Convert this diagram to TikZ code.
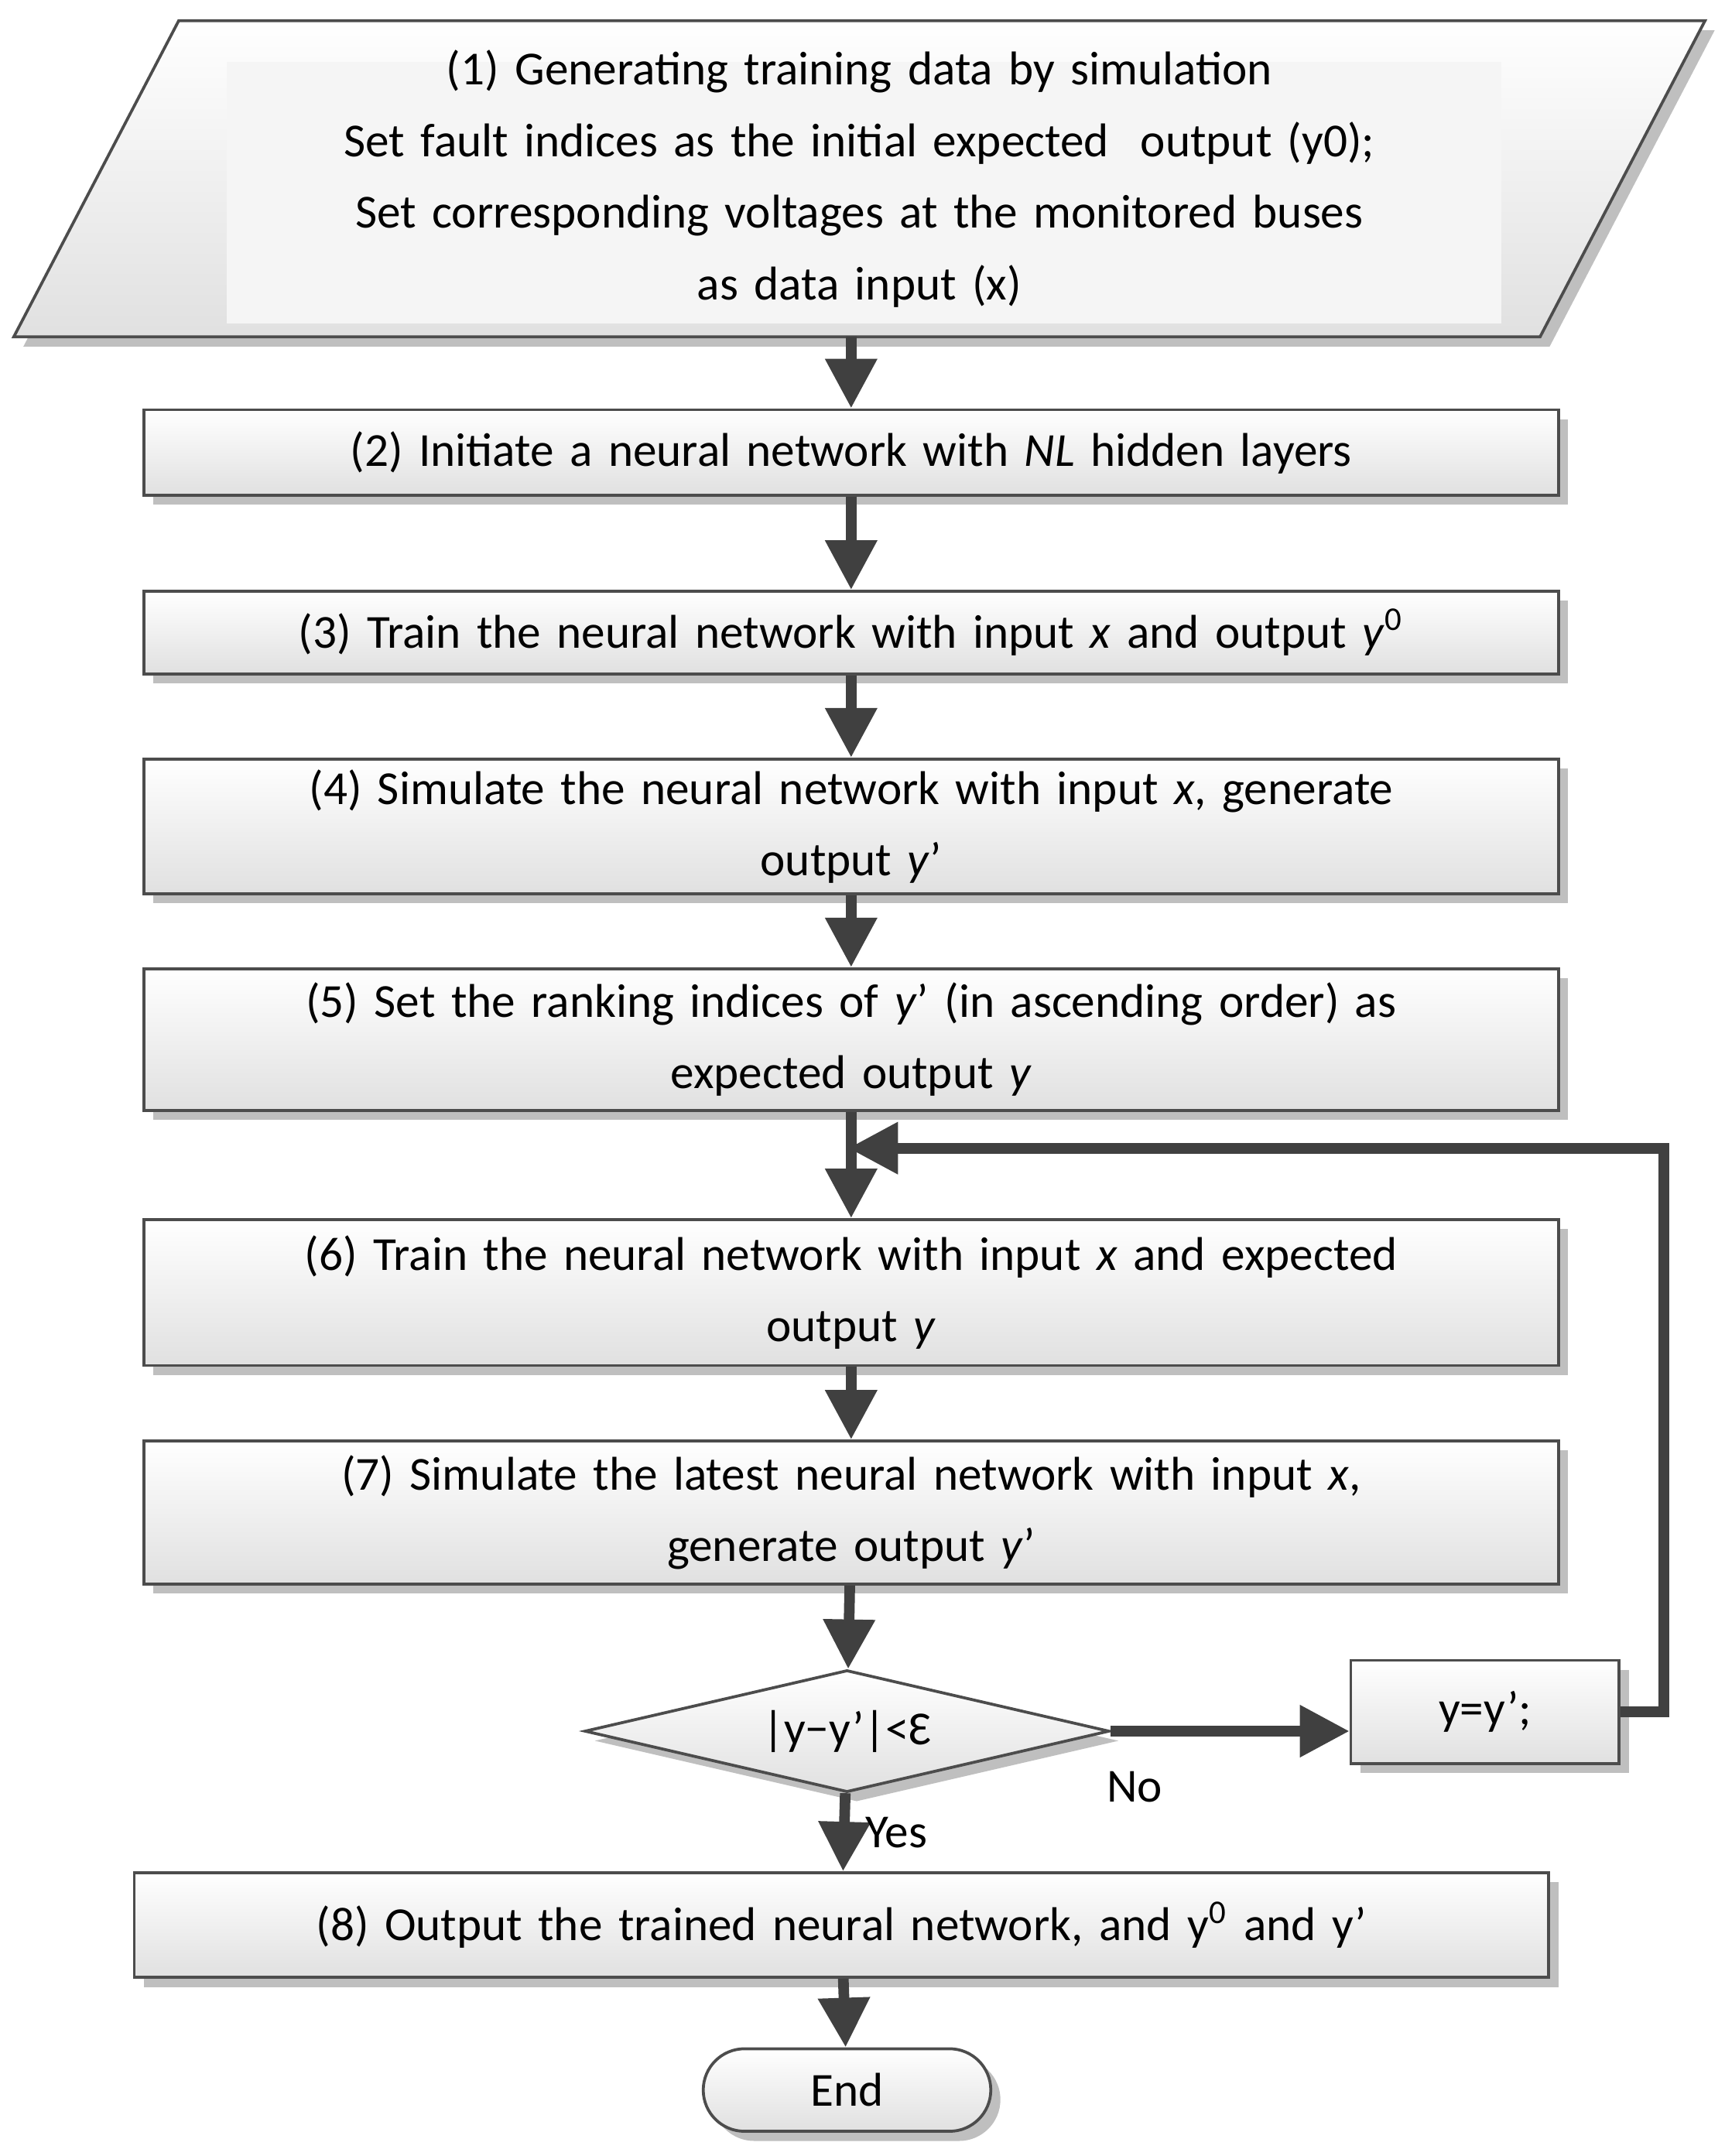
\documentclass[tikz,border=0pt]{standalone}
\usepackage{fontspec}
\setmainfont{Carlito}
\usetikzlibrary{shapes.geometric,arrows.meta,shadows}
\tikzset{
  stage/.style={draw=black!70, line width=0.6pt, top color=white, bottom color=black!12,
    drop shadow={shadow xshift=0.07cm, shadow yshift=-0.07cm, fill=black!25, opacity=1},
    minimum width=10.28cm, text width=9.9cm, align=center, inner sep=2pt,
    font=\fontsize{9.8}{14.8}\selectfont},
  flow/.style={-{Triangle[length=0.36cm,width=0.36cm]}, line width=2.2pt, draw=black!75},
}
\begin{document}
\begin{tikzpicture}[x=0.01cm,y=-0.01cm]
  \useasboundingbox (0,0) rectangle (1254,1568);
  % input block
  \path[draw=black!70, line width=0.6pt, top color=white, bottom color=black!12,
        drop shadow={shadow xshift=0.07cm, shadow yshift=-0.07cm, fill=black!25, opacity=1}]
    (130,15) -- (1240,15) -- (1120,245) -- (10,245) -- cycle;
  \fill[black!4] (165,45) rectangle (1092,235);
  \node[font=\fontsize{9.8}{14.8}\selectfont, align=center, text width=9.8cm] (gen) at (625,130)
    {(1) Generating training data by simulation\\Set fault indices as the initial expected\ \ output (y0);\\Set corresponding voltages at the monitored buses\\as data input (x)};
  \coordinate (genb) at (619,245);
  \node[stage, minimum height=0.62cm] (init) at (619,329) {(2) Initiate a neural network with \textit{NL} hidden layers};
  \node[stage, minimum height=0.60cm] (trn) at (619,460) {(3) Train the neural network with input \textit{x} and output \textit{y}\textsuperscript{0}};
  \node[stage, minimum height=0.98cm] (sim) at (619,601) {(4) Simulate the neural network with input \textit{x}, generate\\output \textit{y}'};
  \node[stage, minimum height=1.03cm] (rank) at (619,756) {(5) Set the ranking indices of \textit{y}' (in ascending order) as\\expected output \textit{y}};
  \node[stage, minimum height=1.06cm] (retrn) at (619,940) {(6) Train the neural network with input \textit{x} and expected\\output \textit{y}};
  \node[stage, minimum height=1.04cm] (resim) at (619,1100) {(7) Simulate the latest neural network with input \textit{x},\\generate output \textit{y}'};
  \node[diamond, stage, aspect=4.3, minimum width=3.78cm, minimum height=0.88cm, text width=2.5cm, inner sep=0pt] (chk) at (616,1259) {|y−y'|<Ɛ};
  \node[stage, minimum width=1.95cm, text width=1.8cm, minimum height=0.75cm] (upd) at (1080,1245) {y=y';};
  \node[stage, minimum height=0.76cm] (out) at (612,1400) {(8) Output the trained neural network, and y\textsuperscript{0} and y'};
  \node[stage, rounded corners=0.3cm, minimum width=2.09cm, text width=1.9cm, minimum height=0.6cm] (end) at (616,1520) {End};
  \coordinate (loop) at (617,835);
  % connectors
  \draw[flow] (genb) -- (init);
  \draw[flow] (init) -- (trn);
  \draw[flow] (trn) -- (sim);
  \draw[flow] (sim) -- (rank);
  \draw[flow] (rank) -- (retrn);
  \draw[flow] (retrn) -- (resim);
  \draw[flow] (resim) -- (chk);
  \draw[flow] (chk.east) -- node[pos=0.1, below, font=\fontsize{9.8}{14.8}\selectfont, yshift=-4pt] {No} (chk.east -| upd.west);
  \draw[flow] (chk) -- node[right, font=\fontsize{9.8}{14.8}\selectfont] {Yes} (out);
  \draw[flow] (out) -- (end);
  \draw[flow] (upd.east) -- (1210,1245) -- (1210,835) -- (loop);
\end{tikzpicture}
\end{document}
